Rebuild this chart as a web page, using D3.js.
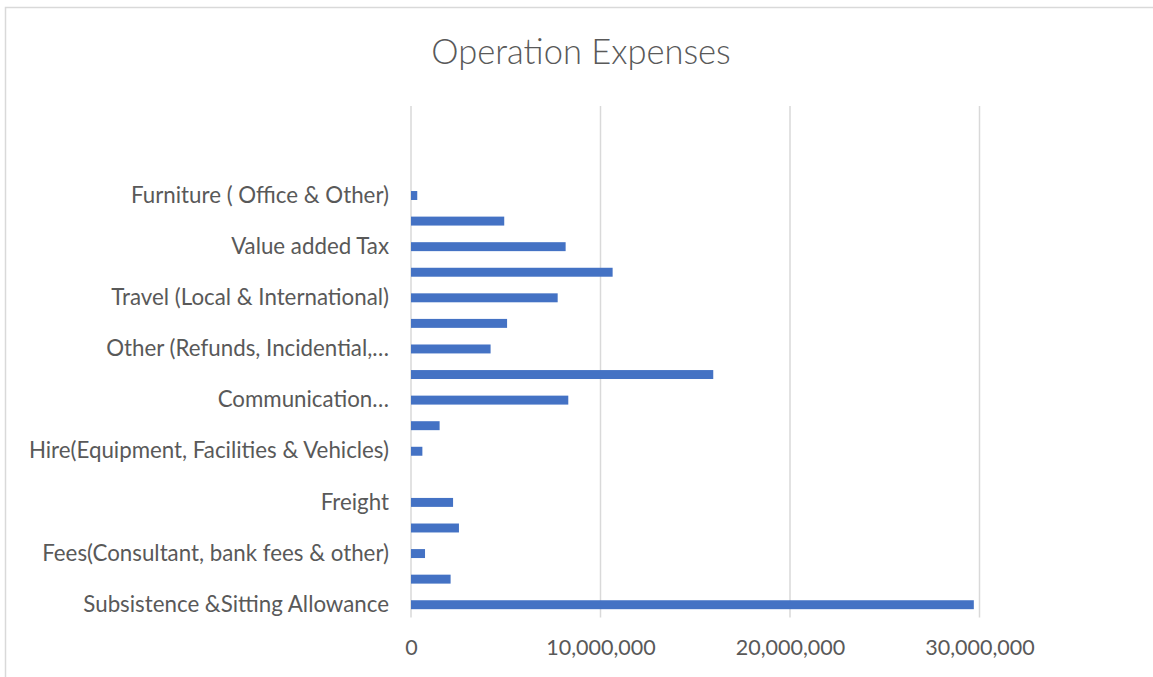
<!DOCTYPE html>
<html>
<head>
<meta charset="utf-8">
<script src="https://cdn.jsdelivr.net/npm/d3@7"></script>
<style>
  body { margin: 0; background: #fff; }
  text { font-family: Lato, "Open Sans", sans-serif; fill: #595959; }
</style>
</head>
<body>
<svg id="chart" width="1153" height="677"></svg>
<script>
// categories bottom -> top, as Excel lists them; "" = label hidden / blank row
const categories = [
  "Subsistence &Sitting Allowance",
  "",
  "Fees(Consultant, bank fees & other)",
  "",
  "Freight",
  "",
  "Hire(Equipment, Facilities & Vehicles)",
  "",
  "Communication…",
  "",
  "Other (Refunds, Incidential,…",
  "",
  "Travel (Local & International)",
  "",
  "Value added Tax",
  "",
  "Furniture ( Office & Other)",
  "",
  "",
  ""
];
const values = [
  29700000, 2090000, 740000, 2530000, 2220000, 0, 600000, 1510000,
  8300000, 15950000, 4200000, 5070000, 7740000, 10640000, 8160000,
  4920000, 330000, null, null, null
];
const xTicks = [0, 10000000, 20000000, 30000000];

const svg = d3.select("#chart");

// chart frame (only top/left visible in the crop)
svg.append("path")
  .attr("d", "M5.5,677 V7.5 H1153")
  .attr("fill", "none")
  .attr("stroke", "#d9d9d9")
  .attr("stroke-width", 1.5);

svg.append("text")
  .attr("x", 581)
  .attr("y", 64)
  .attr("text-anchor", "middle")
  .style("font-size", "34.5px")
  .style("font-weight", 300)
  .text("Operation Expenses");

const x = d3.scaleLinear()
  .domain([0, 30000000])
  .range([411, 979.5]);

const y = d3.scaleBand()
  .domain(d3.range(categories.length))
  .range([617.5, 106])
  .paddingInner(0.65)
  .paddingOuter(0.325);

// gridlines
svg.append("g")
  .selectAll("line")
  .data(xTicks)
  .join("line")
    .attr("x1", d => x(d)).attr("x2", d => x(d))
    .attr("y1", 106).attr("y2", 617.5)
    .attr("stroke", "#d9d9d9")
    .attr("stroke-width", 1.5);

// x axis labels
const xAxis = svg.append("g")
  .attr("transform", "translate(0,640)")
  .call(d3.axisBottom(x).tickValues(xTicks).tickSize(0).tickPadding(0).tickFormat(d3.format(",")));
xAxis.select(".domain").remove();
xAxis.selectAll("text")
  .attr("dy", "0.71em")
  .style("font-size", "21.5px")
  .style("fill", "#595959");

// category labels
const yAxis = svg.append("g")
  .attr("transform", "translate(389,0)")
  .call(d3.axisLeft(y).tickSize(0).tickPadding(0).tickFormat(i => categories[i]));
yAxis.select(".domain").remove();
yAxis.selectAll("text")
  .style("font-size", "22.3px")
  .style("fill", "#595959");

// bars
svg.append("g")
  .selectAll("rect")
  .data(values.map((v, i) => ({ i, v })).filter(d => d.v))
  .join("rect")
    .attr("x", x(0))
    .attr("y", d => y(d.i))
    .attr("width", d => x(d.v) - x(0))
    .attr("height", y.bandwidth())
    .attr("fill", "#4472c4");
</script>
</body>
</html>
